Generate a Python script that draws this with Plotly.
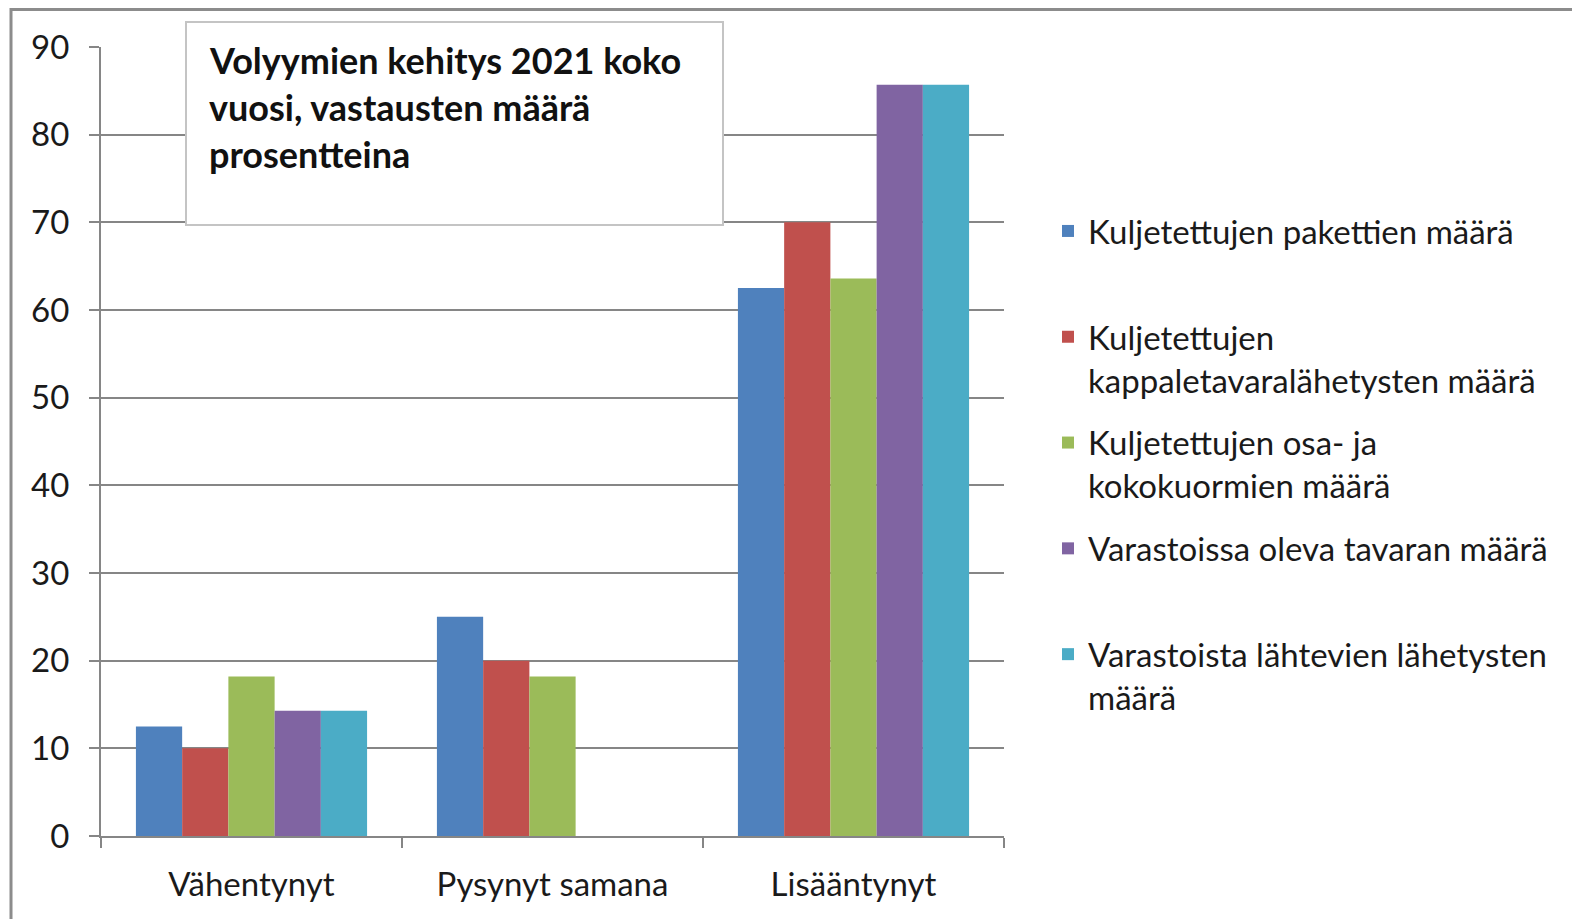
import plotly.graph_objects as go

categories = ["Vähentynyt", "Pysynyt samana", "Lisääntynyt"]
series_names = [
    "Kuljetettujen pakettien määrä<br> ",
    "Kuljetettujen<br>kappaletavaralähetysten määrä",
    "Kuljetettujen osa- ja<br>kokokuormien määrä",
    "Varastoissa oleva tavaran määrä<br> ",
    "Varastoista lähtevien lähetysten<br>määrä",
]
paketit = [12.5, 25.0, 62.5]
kappaletavara = [10.0, 20.0, 70.0]
kuormat = [18.2, 18.2, 63.6]
varastoissa = [14.3, 0.0, 85.7]
lahtevat = [14.3, 0.0, 85.7]
series_values = [paketit, kappaletavara, kuormat, varastoissa, lahtevat]
colors = ["#4F81BD", "#C0504D", "#9BBB59", "#8064A2", "#4BACC6"]
y_ticks = [0, 10, 20, 30, 40, 50, 60, 70, 80, 90]
title_lines = ["Volyymien kehitys 2021 koko", "vuosi, vastausten määrä", "prosentteina"]

W, H = 1572, 919
L, R, T, B = 101, 1004, 47, 836
pw, ph = R - L, B - T


def px(x):
    return (x - L) / pw


def py(y):
    return (B - y) / ph


FONT = "Lato"
GRID = "#868686"
FS = 33

fig = go.Figure()
for name, vals, col in zip(series_names, series_values, colors):
    fig.add_trace(go.Bar(x=categories, y=vals, name=name, marker=dict(color=col, line=dict(width=0)),
                         legendgroup=name))

fig.update_layout(
    width=W, height=H,
    margin=dict(l=L, r=W - R, t=T, b=H - B, autoexpand=False),
    paper_bgcolor="white", plot_bgcolor="white",
    font=dict(family=FONT, size=FS, color="#1a1a1a"),
    barmode="group", bargap=0.232, bargroupgap=0,
    showlegend=True,
    legend=dict(x=px(1048), xanchor="left", y=py(203), yanchor="top",
                font=dict(size=FS, color="#1a1a1a"), valign="top",
                tracegroupgap=17, bgcolor="rgba(0,0,0,0)"),
    xaxis=dict(showgrid=False, showline=True, linecolor=GRID, linewidth=2,
               ticks="outside", tickson="boundaries", ticklen=10, tickwidth=2, tickcolor=GRID,
               ticklabelstandoff=18, tickfont=dict(size=FS)),
    yaxis=dict(range=[0, 90], tickvals=y_ticks, showgrid=True, gridcolor=GRID, gridwidth=2,
               showline=True, linecolor=GRID, linewidth=2, zeroline=False,
               ticks="outside", ticklen=10, tickwidth=2, tickcolor=GRID,
               ticklabelstandoff=13, tickfont=dict(size=FS)),
)

# outer frame (top and left edges visible)
fig.add_shape(type="path", xref="paper", yref="paper",
              path=f"M {px(1580)},{py(9.5)} L {px(11)},{py(9.5)} L {px(11)},{py(930)}",
              line=dict(color="#8c8c8c", width=3), layer="above")

# title box
fig.add_shape(type="rect", xref="paper", yref="paper",
              x0=px(186), x1=px(723), y0=py(225), y1=py(22),
              fillcolor="white", line=dict(color="#c4c4c4", width=2), layer="above")
for i, line in enumerate(title_lines):
    fig.add_annotation(xref="paper", yref="paper", x=px(207), y=py(60 + 47 * i),
                       xanchor="left", yanchor="middle", showarrow=False,
                       text=f"<b>{line}</b>", font=dict(family=FONT, size=36, color="#111111"))

fig.write_html("out.html", config={"displayModeBar": False},
               post_script="document.body.style.margin='0';document.body.style.overflow='hidden';")
